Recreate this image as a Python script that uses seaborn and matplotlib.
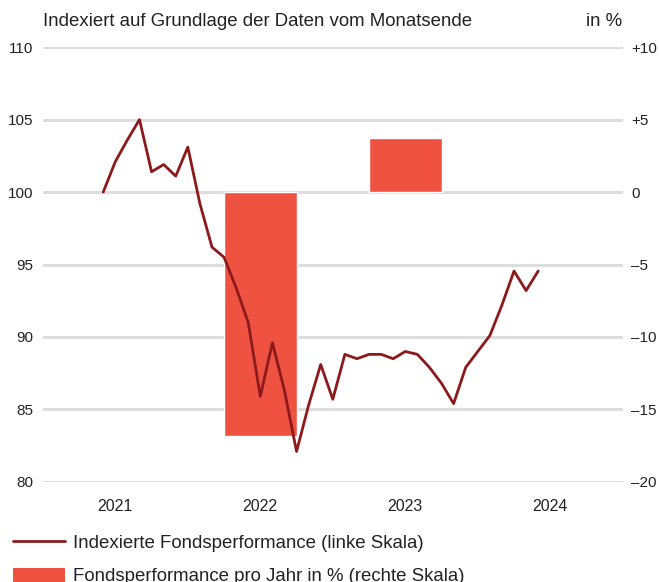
import numpy as np
import pandas as pd
import matplotlib
matplotlib.use("Agg")
import matplotlib.pyplot as plt
from matplotlib.lines import Line2D
from matplotlib.patches import Patch
import seaborn as sns

# monthly index values (left scale), Dec 2020 .. Dec 2023
months = pd.date_range("2020-12-01", periods=37, freq="MS")
index_values = [100.0, 102.1, 103.6, 105.0, 101.4, 101.9, 101.1, 103.1, 99.2, 96.2,
                95.5, 93.4, 91.0, 85.9, 89.6, 86.3, 82.1, 85.3, 88.1, 85.7,
                88.8, 88.5, 88.8, 88.8, 88.5, 89.0, 88.8, 87.9, 86.8, 85.4,
                87.9, 89.0, 90.1, 92.2, 94.55, 93.2, 94.55]

# yearly performance in % (right scale)
bar_years = [2022, 2023]
bar_values = [-16.8, 3.74]

year_ticks = [2021, 2022, 2023, 2024]
left_ticks = [80, 85, 90, 95, 100, 105, 110]
right_ticks = [-20, -15, -10, -5, 0, 5, 10]
right_labels = ["\u201320", "\u201315", "\u201310", "\u20135", "0", "+5", "+10"]

line_col = "#8c1a1c"
bar_col = "#f05242"
grid_col = "#dddddd"
text_col = "#222222"

sns.set_theme(style="white")
plt.rcParams["font.family"] = ["Liberation Sans", "DejaVu Sans"]
plt.rcParams["text.color"] = text_col

df = pd.DataFrame({"x": months.year + (months.month - 1) / 12, "value": index_values})

fig = plt.figure(figsize=(6.59, 5.82), dpi=100)
ax = fig.add_axes([0.065, 0.172, 0.88, 0.747])
ax2 = ax.twinx()
ax.set_zorder(ax2.get_zorder() + 1)
ax.patch.set_visible(False)

# bars on the right scale, behind the line
sns.barplot(x=bar_years, y=bar_values, native_scale=True, width=0.5,
            color=bar_col, saturation=1, ax=ax2, zorder=2)
ax2.set_ylim(-20, 10)
ax2.set_yticks(right_ticks)
ax2.set_yticklabels(right_labels)
for y in right_ticks:
    ax2.axhline(y, color=grid_col, lw=2.2, zorder=1)

sns.lineplot(data=df, x="x", y="value", color=line_col, linewidth=2.0, ax=ax)
ax.set_ylim(80, 110)
ax.set_yticks(left_ticks)
ax.set_xlim(2020.5, 2024.5)
ax2.set_xlim(2020.5, 2024.5)
ax.set_xticks(year_ticks)
ax.set_xticklabels([str(y) for y in year_ticks])
ax.set_xlabel("")
ax.set_ylabel("")
ax2.set_ylabel("")

for a in (ax, ax2):
    for s in a.spines.values():
        s.set_visible(False)
    a.tick_params(length=0, labelsize=11, colors=text_col)
ax.tick_params(axis="y", pad=7)
ax.tick_params(axis="x", pad=12, labelsize=11.5)
ax2.tick_params(axis="y", pad=6)

fig.text(0.065, 0.963, "Indexiert auf Grundlage der Daten vom Monatsende",
         fontsize=13.4, va="center", ha="left")
fig.text(0.944, 0.963, "in %", fontsize=13.4, va="center", ha="right")

handles = [Line2D([0], [0], color=line_col, lw=2.0),
           Patch(facecolor=bar_col, edgecolor="none")]
labels = ["Indexierte Fondsperformance (linke Skala)",
          "Fondsperformance pro Jahr in % (rechte Skala)"]
fig.legend(handles, labels, loc="upper left", bbox_to_anchor=(0.02, 0.082),
           frameon=False, fontsize=13.4, handlelength=2.8, handleheight=0.8,
           handletextpad=0.43, labelspacing=0.85, borderpad=0, borderaxespad=0)

fig.savefig("out.png", dpi=100)
